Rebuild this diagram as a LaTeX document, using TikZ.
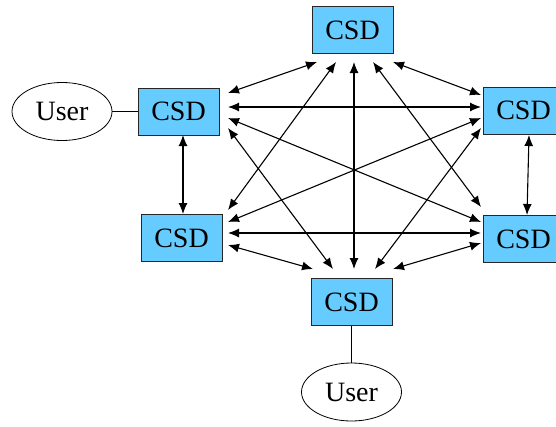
\documentclass[tikz,border=0pt]{standalone}
\usepackage{fontspec}
\setmainfont{Liberation Serif}
\usetikzlibrary{arrows.meta,shapes.geometric}
\definecolor{csdblue}{RGB}{102,204,255}
\begin{document}
\begin{tikzpicture}[x=1pt,y=-1pt,
  csd/.style={draw=black!85, line width=0.8pt, fill=csdblue, minimum width=81pt, minimum height=47pt, inner sep=0pt, font=\fontsize{28}{30}\selectfont},
  user/.style={draw, ellipse, line width=0.8pt, minimum width=100pt, minimum height=58pt, inner sep=0pt, font=\fontsize{28}{30}\selectfont},
  link/.style={line width=1.1pt, {Latex[length=11pt,width=9pt]}-{Latex[length=11pt,width=9pt]}},
  plainline/.style={line width=0.8pt}]
\useasboundingbox (0,0) rectangle (556,426);
\clip (0,0) rectangle (556,426);
\fill[white] (0,0) rectangle (556,426);
% nodes
\node[csd] (t) at (352.5,30) {CSD};
\node[csd] (lu) at (178.5,111.5) {CSD};
\node[csd] (ru) at (523.5,110.5) {CSD};
\node[csd] (ll) at (181.5,238) {CSD};
\node[csd] (rl) at (523.5,239) {CSD};
\node[csd] (b) at (351.5,302) {CSD};
\node[user] (u1) at (62,111.5) {User};
\node[user] (u2) at (351.5,392) {User};
% user links
\draw[plainline] (u1.east) -- (lu.west);
\draw[plainline] (b.south) -- (u2.north);
% connector end points
\coordinate (t1) at (317,62);
\coordinate (t2) at (336,62);
\coordinate (t3) at (354,62);
\coordinate (t4) at (373,62);
\coordinate (t5) at (393,62);
\coordinate (lu1) at (228,93);
\coordinate (lu2) at (228,107);
\coordinate (lu3) at (228,118);
\coordinate (lu4) at (228,128);
\coordinate (lu5) at (183,135);
\coordinate (ru1) at (481,95);
\coordinate (ru2) at (481,107);
\coordinate (ru3) at (481,118);
\coordinate (ru4) at (481,128);
\coordinate (ru5) at (529,135);
\coordinate (ll1) at (228,210);
\coordinate (ll2) at (228,222);
\coordinate (ll3) at (228,233);
\coordinate (ll4) at (228,245);
\coordinate (ll5) at (183,214);
\coordinate (rl1) at (481,207);
\coordinate (rl2) at (481,222);
\coordinate (rl3) at (481,233);
\coordinate (rl4) at (481,243);
\coordinate (rl5) at (527,215);
\coordinate (b1) at (313,269);
\coordinate (b2) at (333,269);
\coordinate (b3) at (354,269);
\coordinate (b4) at (375,269);
\coordinate (b5) at (393,269);
% links
\draw[link] (t1) -- (lu1);
\draw[link] (t2) -- (ll1);
\draw[link] (t3) -- (b3);
\draw[link] (t4) -- (rl1);
\draw[link] (t5) -- (ru1);
\draw[link] (lu2) -- (ru2);
\draw[link] (lu3) -- (rl2);
\draw[link] (lu4) -- (b2);
\draw[link] (lu5) -- (ll5);
\draw[link] (ru3) -- (ll2);
\draw[link] (ru4) -- (b4);
\draw[link] (ru5) -- (rl5);
\draw[link] (ll3) -- (rl3);
\draw[link] (ll4) -- (b1);
\draw[link] (rl4) -- (b5);
\end{tikzpicture}
\end{document}
